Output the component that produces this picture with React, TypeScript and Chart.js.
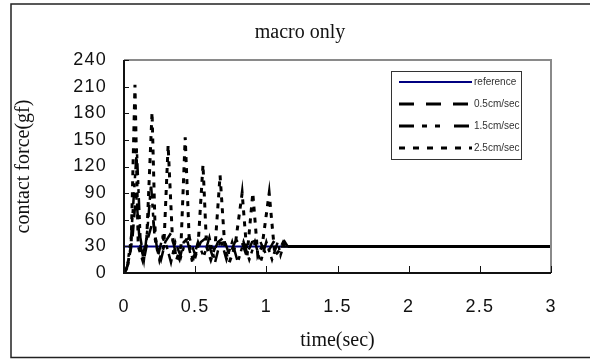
import React, { useEffect, useRef } from 'react';
import { Chart, registerables } from 'chart.js';

Chart.register(...registerables);

const chartTitle = 'macro only';
const xTitle = 'time(sec)';
const yTitle = 'contact force(gf)';

const xMin = 0;
const xMax = 3;
const xStep = 0.5;
const yMin = 0;
const yMax = 240;
const yStep = 30;

const seriesLabels = ['reference', '0.5cm/sec', '1.5cm/sec', '2.5cm/sec'];

const tRef = [0, 3];
const vRef = [30, 30];

const t05 = [0, 0.03, 0.06, 0.085, 0.11, 0.14, 0.17, 0.205, 0.23, 0.26, 0.29, 0.33, 0.36, 0.39, 0.42, 0.46, 0.5, 0.54, 0.58, 0.62, 0.66, 0.7, 0.74, 0.78, 0.82, 0.86, 0.9, 0.95, 1.0, 1.05, 1.1, 1.15, 3];
const v05 = [0, 10, 40, 90, 35, 15, 40, 60, 30, 15, 35, 45, 25, 15, 35, 40, 20, 35, 40, 20, 35, 40, 20, 35, 38, 20, 35, 38, 20, 35, 30, 30, 30];

const t15 = [0, 0.02, 0.05, 0.09, 0.115, 0.14, 0.165, 0.19, 0.215, 0.24, 0.27, 0.3, 0.33, 0.36, 0.4, 0.44, 0.48, 0.52, 0.56, 0.6, 0.64, 0.68, 0.72, 0.76, 0.8, 0.84, 0.88, 0.92, 0.96, 1.0, 1.04, 1.08, 1.1, 1.13, 1.15, 3];
const v15 = [0, 5, 40, 140, 40, 15, 50, 100, 40, 20, 40, 30, 12, 35, 18, 40, 12, 35, 18, 40, 12, 38, 15, 35, 12, 35, 15, 35, 12, 35, 15, 35, 20, 35, 30, 30];

const t25 = [0, 0.02, 0.05, 0.077, 0.1, 0.13, 0.16, 0.197, 0.22, 0.25, 0.28, 0.31, 0.34, 0.37, 0.4, 0.43, 0.46, 0.49, 0.52, 0.555, 0.58, 0.61, 0.64, 0.675, 0.71, 0.74, 0.78, 0.83, 0.865, 0.905, 0.94, 0.97, 1.02, 1.06, 1.09, 1.12, 1.15, 3];
const v25 = [0, 5, 30, 212, 30, 15, 40, 181, 40, 15, 30, 144, 40, 15, 30, 153, 30, 12, 30, 122, 30, 15, 30, 110, 25, 12, 30, 90, 20, 90, 20, 30, 90, 20, 25, 35, 30, 30];

const steadyFrom = 1.15;

const pts = (t: number[], v: number[]) => t.map((x, i) => ({ x, y: v[i] }));

const SANS = '"Liberation Sans", Arial, sans-serif';
const SERIF = '"Liberation Serif", "Times New Roman", serif';

const decor = {
  id: 'decor',
  beforeDraw(chart: any) {
    const ctx = chart.ctx;
    ctx.save();
    ctx.fillStyle = '#ffffff';
    ctx.fillRect(0, 0, chart.width, chart.height);
    ctx.restore();
    ctx.letterSpacing = '1.2px';
  },
  beforeDatasetsDraw(chart: any) {
    chart.ctx.letterSpacing = '0px';
  },
  afterDraw(chart: any) {
    const ctx = chart.ctx;
    const { left, right, top, bottom } = chart.chartArea;
    const xs = chart.scales.x;
    const ys = chart.scales.y;
    ctx.save();
    ctx.letterSpacing = '0px';

    // outer frame
    ctx.strokeStyle = '#222';
    ctx.lineWidth = 1.5;
    ctx.beginPath();
    ctx.moveTo(600, 4);
    ctx.lineTo(11, 4);
    ctx.lineTo(11, 357.5);
    ctx.lineTo(600, 357.5);
    ctx.stroke();

    // plot area top/right border (gray)
    ctx.strokeStyle = '#8a8a8a';
    ctx.lineWidth = 2;
    ctx.beginPath();
    ctx.moveTo(left, top);
    ctx.lineTo(right, top);
    ctx.lineTo(right, bottom);
    ctx.stroke();

    // axis lines
    ctx.strokeStyle = '#111';
    ctx.lineWidth = 2;
    ctx.beginPath();
    ctx.moveTo(left, top);
    ctx.lineTo(left, bottom);
    ctx.lineTo(right, bottom);
    ctx.stroke();

    // inside tick marks
    ctx.lineWidth = 1;
    ctx.strokeStyle = '#111';
    ctx.beginPath();
    xs.ticks.forEach((tk: any) => {
      const px = Math.round(xs.getPixelForValue(tk.value)) + 0.5;
      ctx.moveTo(px, bottom);
      ctx.lineTo(px, bottom - 7);
    });
    ys.ticks.forEach((tk: any) => {
      const py = Math.round(ys.getPixelForValue(tk.value)) + 0.5;
      ctx.moveTo(left, py);
      ctx.lineTo(left + 5, py);
    });
    ctx.stroke();

    // titles
    ctx.fillStyle = '#111';
    ctx.font = `20px ${SERIF}`;
    ctx.textAlign = 'center';
    ctx.textBaseline = 'alphabetic';
    ctx.fillText(chartTitle, 300, 38);
    ctx.fillText(xTitle, (left + right) / 2, 346);
    ctx.save();
    ctx.translate(29, (top + bottom) / 2);
    ctx.rotate(-Math.PI / 2);
    ctx.fillText(yTitle, 0, 0);
    ctx.restore();

    // legend box
    const bx = 391, by = 71, bw = 130, bh = 88;
    ctx.fillStyle = '#ffffff';
    ctx.fillRect(bx, by, bw, bh);
    ctx.strokeStyle = '#333';
    ctx.lineWidth = 1;
    ctx.strokeRect(bx + 0.5, by + 0.5, bw, bh);
    const rows = [82, 104, 126, 148];
    ctx.font = `10px ${SANS}`;
    ctx.textAlign = 'left';
    ctx.textBaseline = 'middle';
    chart.data.datasets.forEach((ds: any, i: number) => {
      const y = rows[i];
      ctx.save();
      ctx.strokeStyle = ds.borderColor;
      ctx.lineWidth = ds.legendWidth || ds.borderWidth;
      ctx.setLineDash(ds.legendDash || []);
      ctx.beginPath();
      ctx.moveTo(399, y);
      ctx.lineTo(472, y);
      ctx.stroke();
      ctx.restore();
      ctx.fillStyle = '#333';
      ctx.fillText(ds.label, 474, y + 0.5);
    });
    ctx.restore();
  },
};

const steadySolid = (ctx: any) => (ctx.p0.parsed.x >= steadyFrom ? [] : undefined);

export default function App() {
  const ref = useRef<HTMLCanvasElement | null>(null);

  useEffect(() => {
    if (!ref.current) return;
    const chart = new Chart(ref.current, {
      type: 'line',
      data: {
        datasets: [
          {
            label: seriesLabels[0],
            data: pts(tRef, vRef),
            borderColor: '#000080',
            borderWidth: 2,
            legendWidth: 2,
            legendDash: [],
            order: 1,
          } as any,
          {
            label: seriesLabels[1],
            data: pts(t05, v05),
            borderColor: '#000000',
            borderWidth: 2.5,
            borderDash: [12, 7],
            legendWidth: 3,
            legendDash: [15, 12],
            segment: { borderDash: steadySolid },
            order: 0,
          } as any,
          {
            label: seriesLabels[2],
            data: pts(t15, v15),
            borderColor: '#000000',
            borderWidth: 2.5,
            borderDash: [12, 5, 4, 5, 4, 5],
            legendWidth: 3,
            legendDash: [15, 8, 5, 8, 5, 14],
            segment: { borderDash: steadySolid },
            order: 0,
          } as any,
          {
            label: seriesLabels[3],
            data: pts(t25, v25),
            borderColor: '#000000',
            borderWidth: 3,
            borderDash: [5, 6],
            legendWidth: 3,
            legendDash: [6, 8],
            segment: { borderDash: steadySolid },
            order: 0,
          } as any,
        ],
      },
      options: {
        animation: false,
        responsive: false,
        maintainAspectRatio: false,
        elements: {
          point: { radius: 0, hoverRadius: 0 },
          line: { tension: 0, fill: false, borderCapStyle: 'butt' },
        },
        layout: { padding: { left: 0, top: 60, right: 39, bottom: 0 } },
        plugins: {
          legend: { display: false },
          title: { display: false },
          tooltip: { enabled: false },
        },
        scales: {
          x: {
            type: 'linear',
            min: xMin,
            max: xMax,
            grid: { display: false, drawTicks: false },
            border: { display: false },
            ticks: {
              stepSize: xStep,
              padding: 23,
              color: '#111',
              font: { family: SANS, size: 18 },
              maxRotation: 0,
              autoSkip: false,
              callback: (v: any) => String(Number(v)),
            },
            afterFit: (s: any) => {
              s.height = 88;
            },
          },
          y: {
            type: 'linear',
            min: yMin,
            max: yMax,
            grid: { display: false, drawTicks: false },
            border: { display: false },
            ticks: {
              stepSize: yStep,
              padding: 17,
              color: '#111',
              font: { family: SANS, size: 18 },
              autoSkip: false,
              callback: (v: any) => String(Number(v)),
            },
            afterFit: (s: any) => {
              s.width = 124;
            },
          },
        },
      },
      plugins: [decor],
    });
    return () => chart.destroy();
  }, []);

  return (
    <div style={{ position: 'fixed', left: 0, top: 0, width: 590, height: 361, background: '#fff' }}>
      <canvas ref={ref} width={590} height={361} style={{ display: 'block', width: 590, height: 361 }} />
    </div>
  );
}
